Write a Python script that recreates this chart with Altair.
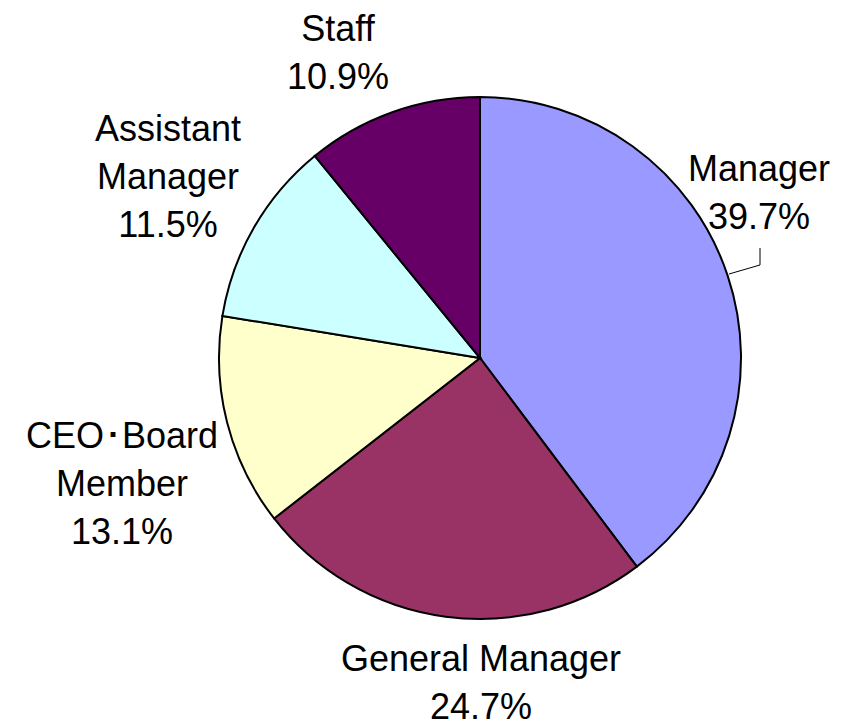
import altair as alt
import pandas as pd

categories = ["Manager", "General Manager", "CEO・Board Member", "Assistant Manager", "Staff"]
shares = [39.7, 24.7, 13.1, 11.5, 10.9]
label_texts = ["Manager\n39.7%", "General Manager\n24.7%", "CEO\uff65Board\nMember\n13.1%",
               "Assistant\nManager\n11.5%", "Staff\n10.9%"]
colors = ["#9999FF", "#993366", "#FFFFCC", "#CCFFFF", "#660066"]

df = pd.DataFrame({"cat": categories, "share": shares, "order": list(range(len(categories)))})

# layout (chart coordinates): center of the first line of each label
CX, CY, R = 472, 350, 261
label_pos = {
    "Manager": (751, 162),
    "General Manager": (473, 652),
    "CEO・Board Member": (114, 429),
    "Assistant Manager": (160, 122),
    "Staff": (330, 22),
}
lab = pd.DataFrame({
    "cat": categories,
    "text": label_texts,
    "px": [label_pos[c][0] for c in categories],
    "py": [label_pos[c][1] for c in categories],
})

pie = alt.Chart(df).mark_arc(outerRadius=R, stroke="black", strokeWidth=2).encode(
    theta=alt.Theta("share:Q", stack=True),
    order=alt.Order("order:Q"),
    color=alt.Color("cat:N", scale=alt.Scale(domain=categories, range=colors), legend=None),
    x=alt.value(CX),
    y=alt.value(CY),
)

labels = alt.Chart(lab).mark_text(
    font="Liberation Sans", fontSize=36, lineBreak="\n", lineHeight=48,
    align="center", baseline="middle", color="black"
).encode(
    x=alt.X("px:Q", scale=None),
    y=alt.Y("py:Q", scale=None),
    text="text:N",
)

lead1 = alt.Chart(df.head(1)).mark_rule(color="black", strokeWidth=1).encode(
    x=alt.value(752), y=alt.value(240), x2=alt.value(752), y2=alt.value(257))
lead2 = alt.Chart(df.head(1)).mark_rule(color="black", strokeWidth=1).encode(
    x=alt.value(752), y=alt.value(257), x2=alt.value(721), y2=alt.value(266))

chart = alt.layer(pie, labels, lead1, lead2).properties(
    width=831, height=715, autosize="none", padding=0
).configure_view(stroke=None)

chart.save("out.html", embed_options={"renderer": "svg", "actions": False})
